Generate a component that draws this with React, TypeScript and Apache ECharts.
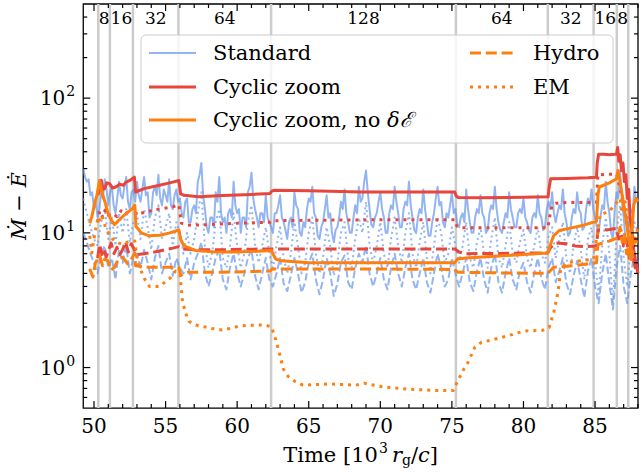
import React, { useEffect, useRef } from 'react';
import * as echarts from 'echarts';

// Zoom-level boundaries (time, 10^3 r_g/c) and labels shown along the top
const zoomBoundaries = [50.30, 51.11, 52.72, 55.90, 62.37, 75.28, 81.70, 84.90, 86.52, 87.32];
const zoomLevels = ['8', '16', '32', '64', '128', '64', '32', '16', '8'];

// Standard run: total sampled every 0.125 from 49.25, EM and hydro every 0.25
const stdStart = 49.25;
const stdTotalStep = 0.125;
const stdPartStep = 0.25;
const stdTotal = [
  30, 26, 24, 25, 19, 20, 15, 17,
  13, 15, 20, 18, 25, 21, 16, 20, 22, 16, 14, 18, 24, 19, 18, 22, 26, 17, 15, 20, 21, 17, 24, 19,
  17, 21, 26, 19, 20, 13, 14, 20, 22, 19, 27, 18, 16, 21, 19, 17, 25, 16, 15, 19, 21, 17, 18, 14,
  13, 17, 18, 12, 12, 15, 16, 14, 24, 27, 33, 19, 15, 11, 10, 13, 13, 11, 20, 17, 26, 14, 12, 13, 10, 14,
  15, 13, 24, 16, 14, 15, 10, 13, 13, 11, 20, 22, 28, 18, 15, 13, 11, 14, 14, 12, 19, 13, 12, 11, 10, 14,
  14, 16, 19, 13, 12, 10.5, 9, 12, 13, 11, 20, 16, 15, 10, 9.5, 12, 11, 15, 18, 17, 22, 14, 13, 9.5, 9,
  11, 12, 15, 19, 13, 14, 10, 8.5, 10.5, 11, 13, 17, 15, 21, 14, 12, 10, 10, 13, 16, 14, 22, 17, 18, 24,
  29, 20, 15, 11.5, 11, 13, 14, 17, 20, 15, 13, 10, 10, 14, 16, 15, 22, 17, 14, 11, 11, 15, 17, 16, 24, 16,
  13, 10.5, 10, 13, 15, 14, 21, 15, 12, 9.5, 9.5, 12, 14, 18, 22, 16, 17, 12, 11, 14, 13, 16, 20, 14, 15, 11.5,
  11, 13, 14, 12, 21, 15, 12, 10, 10, 13, 15, 14, 19, 14, 13, 10, 10.5, 14, 16, 15, 22, 15, 12, 10.5, 10, 12,
  14, 13, 20, 15, 13, 11, 11, 14, 15, 14, 18, 13, 12, 10.5, 10, 13, 14, 13, 19, 14, 13, 10.5, 11, 15, 17, 15,
  20, 14, 12, 14, 16, 15, 21, 14, 12, 9.5, 10, 13, 15, 14, 20, 15, 14, 10.5, 11, 15, 18, 16, 21, 15, 13, 11,
  10, 13, 16, 15, 24, 17, 14, 10, 9, 15, 20, 18, 29, 17, 13, 9, 8, 12, 15, 14, 22, 17, 18,
];
const stdEM = [
  18, 14, 11, 9,
  8, 12, 15, 9, 13, 8, 14, 10, 15, 8.5, 12, 14,
  9, 15, 11, 7.5, 13, 16, 9, 11, 14, 8, 12, 10,
  7, 10, 7, 9, 14, 20, 8, 5.5, 7, 12, 15, 6.5, 5.5, 8, 14, 8, 5.5, 7, 12, 16, 8, 6, 8, 11, 7, 5.5,
  8, 11, 6.5, 5, 7, 12, 8, 5, 6, 10, 13, 7, 5, 6.5, 11, 8, 4.8, 6, 10, 12, 6.5, 5.5, 9, 13, 10,
  17, 8, 6, 8, 12, 7, 5.5, 9, 13, 8, 6, 10, 14, 7, 5.5, 8.5, 12, 6.5, 5, 8, 13, 10, 6, 7, 11, 8,
  6, 8, 12, 6.5, 5.5, 8.5, 11, 7, 5.5, 9, 13, 6.5, 5.5, 8, 12, 7, 6, 8.5, 10.5, 6.5, 5.5, 8, 11, 7, 6, 9.5,
  11, 6.5, 9, 12, 6.5, 5, 8, 11, 7.5, 4.5, 9, 11, 6,
  3.5, 8, 13, 7, 3, 10, 16, 6.5, 4, 8, 12, 10,
];
const stdHydro = [
  10, 8.5, 7, 6,
  5, 7, 8, 5.5, 6.5, 4.5, 7.5, 6, 8, 5, 6.5, 7,
  5.5, 7.5, 6, 4.5, 6.5, 8, 5, 6, 7, 4.8, 6.5, 5.5,
  5, 6.5, 4.5, 6, 7, 8.5, 5, 4, 5, 6.5, 7.5, 4.5, 3.8, 5.5, 7, 5, 4, 5, 6.5, 7.5, 4.8, 3.8, 5, 6.5, 4.5, 4,
  5, 6.5, 4.2, 3.7, 4.8, 6.5, 5, 3.6, 4.3, 6, 7, 4.5, 3.5, 4.5, 6.5, 5, 3.4, 4.2, 6, 6.8, 4.3, 3.8, 5.5, 7, 6,
  8, 5, 4, 5, 6.5, 4.5, 3.8, 5.5, 7, 5, 4, 5.5, 7, 4.5, 3.8, 5, 6.5, 4.3, 3.6, 5, 7, 5.5, 4, 4.5, 6.5, 5,
  4, 5, 6.5, 4.3, 3.7, 5.2, 6.5, 4.5, 3.6, 5.5, 7, 4.3, 3.6, 5, 6.5, 4.5, 3.8, 5.2, 6, 4.3, 3.6, 5, 6.5, 4.6, 3.8, 5.5,
  6.5, 4.3, 5.2, 6.5, 4.2, 3.5, 4.8, 6.2, 4.5, 3.3, 5.2, 6.5, 4,
  3, 5, 7, 4.2, 2.7, 5.5, 8, 4, 3, 5, 7, 6,
];

// Cyclic zoom
const czTotalX = [50.28, 50.4, 50.51, 50.62, 50.74, 50.9, 51.09, 51.3, 51.55, 51.8, 52.05, 52.24, 52.5, 52.82, 52.9, 53.5, 54.5, 55.5, 55.93, 56.05, 56.3, 57.3, 59.0, 61.0, 62.3, 62.42, 62.6, 65.0, 68.7, 72.0, 75.2, 75.3, 75.45, 77.0, 80.0, 81.72, 81.8, 81.9, 83.0, 84.5, 85.1, 85.15, 85.25, 85.6, 86.0, 86.4, 86.5, 86.58, 86.66, 86.75, 86.85, 86.95, 87.05, 87.15, 87.25, 87.35, 87.45, 87.55, 87.7, 87.85, 88.0];
const czTotalY = [19.0, 22.0, 24.6, 21.0, 21.3, 23.5, 23.2, 21.5, 22.0, 23.0, 22.5, 23.8, 24.5, 25.9, 20.1, 21.3, 22.5, 23.8, 24.5, 19.5, 19.0, 18.5, 18.9, 19.3, 19.6, 20.4, 20.7, 20.5, 20.1, 20.1, 20.1, 18.8, 18.3, 18.2, 18.4, 18.5, 22.0, 25.2, 25.3, 25.6, 25.9, 33.0, 38.3, 38.3, 38.0, 38.3, 38.5, 43.0, 34.0, 38.0, 29.0, 33.0, 24.0, 27.0, 18.0, 21.0, 13.0, 11.0, 7.5, 6.0, 5.0];
const czHydroX = [50.25, 50.4, 50.55, 50.7, 50.85, 51.0, 51.2, 51.4, 51.6, 51.8, 52.0, 52.2, 52.4, 52.6, 52.85, 52.95, 53.5, 54.5, 55.5, 55.93, 56.1, 57.0, 59.0, 62.3, 62.5, 68.0, 75.2, 75.5, 76.0, 81.7, 81.9, 82.3, 83.0, 83.6, 84.2, 85.1, 85.2, 86.0, 86.5, 86.65, 86.8, 87.0, 87.2, 87.4, 87.6, 87.8, 88.0];
const czHydroY = [6.5, 8.2, 6.9, 7.6, 6.6, 7.4, 8.4, 7.0, 7.8, 6.9, 7.5, 8.6, 7.2, 8.3, 7.4, 6.9, 7.0, 7.3, 7.7, 7.9, 7.6, 7.5, 7.5, 7.6, 7.6, 7.6, 7.6, 7.2, 7.0, 7.1, 7.8, 8.4, 8.3, 8.0, 7.9, 8.0, 10.5, 10.6, 10.8, 9.0, 10.0, 8.0, 9.0, 6.5, 7.0, 5.5, 6.0];
const czEMX = [50.25, 50.4, 50.6, 50.8, 51.0, 51.3, 51.6, 51.9, 52.2, 52.5, 52.85, 52.95, 53.5, 54.5, 55.5, 55.93, 56.1, 56.5, 58.0, 60.0, 62.3, 62.45, 65.0, 70.0, 75.2, 75.35, 75.6, 78.0, 81.7, 81.85, 82.0, 82.3, 83.0, 85.1, 85.2, 86.5, 86.6, 86.8, 87.0, 87.2, 87.5, 87.8, 88.0];
const czEMY = [12.0, 14.5, 13.0, 14.8, 13.5, 14.0, 13.2, 14.6, 13.8, 14.7, 15.5, 13.6, 14.2, 15.0, 15.6, 16.1, 11.8, 11.4, 11.5, 11.8, 12.0, 12.3, 12.4, 12.5, 12.5, 11.2, 10.9, 10.9, 10.9, 13.5, 16.0, 16.6, 16.8, 16.8, 27.0, 27.3, 25.0, 20.0, 16.0, 12.0, 8.0, 6.0, 5.5];

// Cyclic zoom, no delta-E
const noDeTotalX = [49.7, 49.85, 50.05, 50.2, 50.39, 50.5, 50.62, 50.8, 50.97, 51.2, 51.43, 51.7, 52.0, 52.35, 52.7, 52.85, 52.93, 53.3, 53.85, 54.6, 55.3, 55.93, 56.05, 56.28, 57.08, 58.5, 60.0, 61.5, 62.39, 62.5, 62.7, 63.08, 65.0, 70.0, 75.2, 75.4, 76.0, 78.0, 80.0, 81.7, 81.85, 82.1, 82.5, 83.2, 84.2, 85.1, 85.2, 85.3, 86.0, 86.5, 86.6, 86.75, 86.9, 87.05, 87.2, 87.35, 87.5, 87.6, 87.7, 87.85, 88.0];
const noDeTotalY = [11.8, 13.2, 16.6, 19.0, 24.5, 21.0, 19.0, 16.5, 14.0, 12.5, 11.5, 12.3, 13.2, 14.2, 15.2, 16.1, 11.2, 10.0, 9.5, 9.6, 10.0, 10.5, 9.0, 8.0, 7.4, 7.2, 7.2, 7.3, 7.4, 7.0, 6.4, 6.2, 6.0, 6.0, 6.0, 6.4, 6.5, 6.7, 6.9, 7.1, 8.0, 9.5, 10.4, 10.8, 11.4, 12.2, 19.0, 21.9, 23.5, 25.2, 29.0, 24.0, 19.0, 15.0, 12.0, 9.0, 7.5, 11.0, 16.0, 18.0, 17.0];
const noDeHydroX = [49.7, 49.93, 50.1, 50.39, 50.6, 50.75, 50.97, 51.2, 51.43, 51.7, 52.0, 52.35, 52.7, 52.85, 52.9, 53.85, 55.93, 56.05, 56.6, 59.0, 62.3, 62.45, 68.0, 75.2, 75.4, 78.0, 81.7, 82.1, 83.5, 85.1, 85.2, 86.0, 86.6, 86.75, 86.9, 87.05, 87.2, 87.35, 87.5, 87.65, 87.8, 88.0];
const noDeHydroY = [5.4, 4.7, 6.0, 6.8, 5.7, 6.4, 6.2, 5.3, 5.55, 6.4, 6.6, 5.9, 6.6, 7.1, 5.7, 5.55, 5.55, 4.85, 5.1, 5.1, 5.2, 5.4, 5.4, 5.35, 5.1, 5.05, 5.0, 5.55, 5.7, 6.0, 8.2, 8.7, 9.2, 11.0, 8.5, 10.0, 7.0, 8.0, 6.0, 7.5, 9.0, 8.0];
const noDeEMX = [49.7, 49.85, 50.0, 50.15, 50.3, 50.45, 50.6, 50.8, 51.0, 51.3, 51.6, 52.0, 52.4, 52.85, 53.0, 53.15, 53.5, 53.88, 54.57, 55.3, 55.7, 56.0, 56.18, 56.42, 56.64, 57.11, 58.26, 58.95, 59.53, 60.1, 60.68, 61.95, 62.41, 62.75, 62.99, 63.22, 63.56, 64.03, 64.6, 66.45, 68.29, 68.87, 70.14, 71.99, 73.83, 75.1, 75.33, 75.79, 76.14, 76.6, 77.06, 77.75, 78.9, 80.06, 81.33, 81.79, 82.13, 82.37, 82.48, 82.6, 83.06, 83.98, 84.9, 85.1, 85.36, 86.0, 86.75, 86.9, 87.1, 87.3, 87.5, 87.8, 88.0];
const noDeEMY = [9.5, 7.1, 9.0, 11.2, 13.2, 12.0, 13.0, 11.0, 10.0, 9.0, 8.5, 8.2, 8.6, 8.7, 6.5, 5.7, 4.6, 4.0, 4.0, 4.6, 5.2, 5.0, 3.1, 2.5, 2.2, 2.07, 1.95, 1.9, 1.95, 2.03, 2.06, 2.07, 2.0, 1.54, 1.23, 0.98, 0.86, 0.79, 0.74, 0.756, 0.74, 0.765, 0.72, 0.69, 0.676, 0.676, 0.765, 0.956, 1.1, 1.41, 1.54, 1.6, 1.72, 1.87, 1.89, 1.98, 2.6, 3.46, 4.1, 5.4, 6.0, 6.2, 6.4, 9.0, 13.6, 14.5, 18.0, 14.0, 17.0, 12.0, 10.0, 9.0, 11.0];

const legendLabels = ['Standard', 'Cyclic zoom', 'Cyclic zoom, no {it|δℰ}', 'Hydro', 'EM'];

const X_MIN = 49.25;
const X_MAX = 88.0;
const Y_MIN = 0.5;
const Y_MAX = 500;

const FONT = 'DejaVu Serif';
const BLUE = '#6495ED';
const RED = '#e8453c';
const ORANGE = '#ff7f0e';
const GREY = '#cccccc';

const pairs = (xs: number[], ys: number[]) => xs.map((x, i) => [x, ys[i]]);
const grid = (n: number, step: number) => Array.from({ length: n }, (_, i) => +(stdStart + i * step).toFixed(3));
const stdTotalTimes = grid(stdTotal.length, stdTotalStep);
const stdPartTimes = grid(stdEM.length, stdPartStep);

const DASH = [11, 4.8];
const DOT = [3, 5];

function lineSeries(name: string, data: number[][], color: string, width: number, type: any, z: number, opacity = 1) {
  return {
    type: 'line',
    name,
    data,
    symbol: 'none',
    showSymbol: false,
    clip: true,
    silent: true,
    z,
    lineStyle: { color, width, type, opacity, cap: 'butt', join: 'round' },
  };
}

// tick positions (axis decoration)
const xMajor: number[] = [];
const xMinor: number[] = [];
for (let v = 50; v <= 88; v++) (v % 5 === 0 ? xMajor : xMinor).push(v);
const yMajor = [1, 10, 100];
const yMinor: number[] = [];
[0.1, 1, 10, 100].forEach((d) => {
  for (let m = 2; m <= 9; m++) {
    const v = +(m * d).toPrecision(3);
    if (v > Y_MIN && v < Y_MAX) yMinor.push(v);
  }
});
const MAJ = 7;
const MIN = 4;

const tickStyle = { stroke: '#000', lineWidth: 1.2 };

// legend layout (pixels)
const GRID_LEFT = 78;
const GRID_TOP = 4;
const LEG_X = GRID_LEFT + 63;
const LEG_Y = GRID_TOP + 31;
const LEG_ROWS = [LEG_Y + 18, LEG_Y + 52, LEG_Y + 85];

function buildOption() {
  const mids = zoomLevels.map((_, i) => [(zoomBoundaries[i] + zoomBoundaries[i + 1]) / 2, Y_MAX, i]);
  const legendText = (text: string, x: number, y: number) => ({
    text,
    left: x,
    top: y - 12,
    padding: 0,
    itemGap: 0,
    z: 30,
    textStyle: {
      fontFamily: FONT, fontSize: 21, fontWeight: 'normal', color: '#000', lineHeight: 24,
      rich: { it: { fontFamily: FONT, fontSize: 21, fontStyle: 'italic', color: '#000', lineHeight: 24 } },
    },
  });
  return {
    animation: false,
    backgroundColor: '#fff',
    title: [
      legendText(legendLabels[0], LEG_X + 72, LEG_ROWS[0]),
      legendText(legendLabels[1], LEG_X + 72, LEG_ROWS[1]),
      legendText(legendLabels[2], LEG_X + 72, LEG_ROWS[2]),
      legendText(legendLabels[3], LEG_X + 392, LEG_ROWS[0]),
      legendText(legendLabels[4], LEG_X + 392, LEG_ROWS[1]),
    ],
    grid: { left: GRID_LEFT, right: 5, top: GRID_TOP, bottom: 57, show: true, borderColor: '#000', borderWidth: 1.3, backgroundColor: 'transparent' },
    xAxis: {
      type: 'value',
      min: X_MIN,
      max: X_MAX,
      splitNumber: 8,
      axisLine: { show: false },
      axisTick: { show: false },
      splitLine: { show: false },
      axisLabel: {
        color: '#000', fontFamily: FONT, fontSize: 20, margin: 8,
        formatter: (v: number) => (Math.abs(v % 5) < 1e-6 ? String(v) : ''),
        showMinLabel: false, showMaxLabel: false,
      },
      name: 'Time [10{sup|3}\u2009{it|r}{sub|g}/{it|c}]',
      nameLocation: 'middle',
      nameGap: 30,
      nameTextStyle: {
        color: '#000', fontFamily: FONT, fontSize: 21,
        rich: {
          sup: { fontFamily: FONT, fontSize: 14, color: '#000', padding: [0, 0, 14, 1] },
          sub: { fontFamily: FONT, fontSize: 14, color: '#000', padding: [10, 0, 0, 0] },
          it: { fontFamily: FONT, fontSize: 21, color: '#000', fontStyle: 'italic' },
        },
      },
    },
    yAxis: {
      type: 'log',
      logBase: 10,
      min: Y_MIN,
      max: Y_MAX,
      axisLine: { show: false },
      axisTick: { show: false },
      splitLine: { show: false },
      minorTick: { show: false },
      axisLabel: {
        color: '#000', fontFamily: FONT, fontSize: 20, margin: 8,
        showMinLabel: false, showMaxLabel: false,
        formatter: (v: number) => {
          const e = Math.log10(v);
          const r = Math.round(e);
          return Math.abs(e - r) < 1e-6 ? `{b|10}{s|${r}}` : '';
        },
        rich: {
          b: { fontFamily: FONT, fontSize: 20, color: '#000' },
          s: { fontFamily: FONT, fontSize: 14, color: '#000', padding: [0, 0, 14, 1] },
        },
      },
      name: 'Ṁ − Ė',
      nameLocation: 'middle',
      nameGap: 48,
      nameRotate: 90,
      nameTextStyle: { color: '#000', fontFamily: FONT, fontSize: 21, fontStyle: 'italic' },
    },
    series: [
      {
        type: 'custom',
        name: 'zoomLines',
        silent: true,
        z: 1,
        data: zoomBoundaries.map((b) => [b, 1]),
        renderItem: (params: any, api: any) => {
          const cs = params.coordSys;
          const x = api.coord([api.value(0), 1])[0];
          return { type: 'line', shape: { x1: x, y1: cs.y, x2: x, y2: cs.y + cs.height }, style: { stroke: GREY, lineWidth: 2.5 } };
        },
      },
      lineSeries('Standard', pairs(stdTotalTimes, stdTotal), BLUE, 2, 'solid', 2, 0.7),
      lineSeries('Standard EM', pairs(stdPartTimes, stdEM), BLUE, 2, [2, 3.3], 2, 0.7),
      lineSeries('Standard Hydro', pairs(stdPartTimes, stdHydro), BLUE, 2, [7.4, 3.2], 2, 0.7),
      lineSeries('Cyclic zoom', pairs(czTotalX, czTotalY), RED, 3, 'solid', 3),
      lineSeries('Cyclic zoom Hydro', pairs(czHydroX, czHydroY), RED, 3, DASH, 3),
      lineSeries('Cyclic zoom EM', pairs(czEMX, czEMY), RED, 3, DOT, 3),
      lineSeries('Cyclic zoom, no dE', pairs(noDeTotalX, noDeTotalY), ORANGE, 3, 'solid', 4),
      lineSeries('Cyclic zoom, no dE Hydro', pairs(noDeHydroX, noDeHydroY), ORANGE, 3, DASH, 4),
      lineSeries('Cyclic zoom, no dE EM', pairs(noDeEMX, noDeEMY), ORANGE, 3, DOT, 4),
      {
        type: 'custom',
        name: 'xTicks',
        silent: true,
        z: 10,
        data: [...xMajor.map((v) => [v, MAJ]), ...xMinor.map((v) => [v, MIN])],
        renderItem: (params: any, api: any) => {
          const cs = params.coordSys;
          const x = api.coord([api.value(0), 1])[0];
          const len = api.value(1);
          const b = cs.y + cs.height;
          return {
            type: 'group',
            children: [
              { type: 'line', shape: { x1: x, y1: b, x2: x, y2: b - len }, style: tickStyle },
              { type: 'line', shape: { x1: x, y1: cs.y, x2: x, y2: cs.y + len }, style: tickStyle },
            ],
          };
        },
      },
      {
        type: 'custom',
        name: 'yTicks',
        silent: true,
        z: 10,
        data: [...yMajor.map((v) => [MAJ + 50, v]), ...yMinor.map((v) => [MIN + 50, v])],
        renderItem: (params: any, api: any) => {
          const cs = params.coordSys;
          const y = api.coord([50, api.value(1)])[1];
          const len = api.value(0) - 50;
          const r = cs.x + cs.width;
          return {
            type: 'group',
            children: [
              { type: 'line', shape: { x1: cs.x, y1: y, x2: cs.x + len, y2: y }, style: tickStyle },
              { type: 'line', shape: { x1: r, y1: y, x2: r - len, y2: y }, style: tickStyle },
            ],
          };
        },
      },
      {
        type: 'scatter',
        name: 'zoomLabels',
        silent: true,
        clip: false,
        z: 10,
        symbolSize: 0,
        itemStyle: { opacity: 1, color: '#000' },
        data: mids,
        label: {
          show: true,
          position: 'bottom',
          distance: 5,
          fontFamily: FONT,
          fontSize: 17,
          color: '#000',
          opacity: 1,
          formatter: (p: any) => zoomLevels[p.value[2]],
        },
      },
      {
        type: 'custom',
        name: 'legendBox',
        silent: true,
        z: 5,
        data: [[50, 1]],
        renderItem: () => {
          const l = (x1: number, x2: number, y: number, style: any) => ({ type: 'line', shape: { x1, y1: y, x2, y2: y }, style });
          return {
            type: 'group',
            children: [
              { type: 'rect', shape: { x: LEG_X, y: LEG_Y, width: 472, height: 108, r: 5 }, style: { fill: 'rgba(255,255,255,0.8)', stroke: GREY, lineWidth: 1 } },
              l(LEG_X + 8, LEG_X + 55, LEG_ROWS[0], { stroke: BLUE, lineWidth: 2, opacity: 0.7 }),
              l(LEG_X + 8, LEG_X + 55, LEG_ROWS[1], { stroke: RED, lineWidth: 3 }),
              l(LEG_X + 8, LEG_X + 55, LEG_ROWS[2], { stroke: ORANGE, lineWidth: 3 }),
              l(LEG_X + 329, LEG_X + 375, LEG_ROWS[0], { stroke: ORANGE, lineWidth: 3, lineDash: DASH }),
              l(LEG_X + 329, LEG_X + 375, LEG_ROWS[1], { stroke: ORANGE, lineWidth: 3, lineDash: DOT }),
            ],
          };
        },
      },
    ],
  };
}

export default function App() {
  const ref = useRef<HTMLDivElement>(null);
  useEffect(() => {
    const chart = echarts.init(ref.current!, null, { renderer: 'svg' });
    chart.setOption(buildOption() as any);
    return () => chart.dispose();
  }, []);
  return <div ref={ref} style={{ position: 'fixed', left: 0, top: 0, width: 643, height: 472, background: '#fff' }} />;
}
